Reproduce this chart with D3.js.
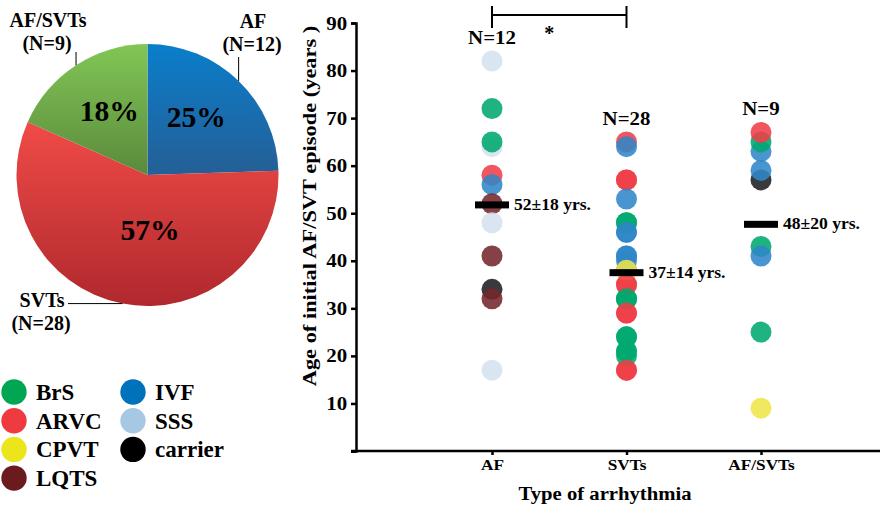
<!DOCTYPE html>
<html>
<head>
<meta charset="utf-8">
<script src="https://cdn.jsdelivr.net/npm/d3@7"></script>
<style>
  body { margin: 0; background: #fff; }
  text { font-family: 'Liberation Serif', 'Times New Roman', serif; font-weight: bold; fill: #000; }
</style>
</head>
<body>
<script>
// pie data
var pieGroups = ['AF', 'SVTs', 'AF/SVTs'];
var pieCounts = [12, 28, 9];
var piePercents = ['25%', '57%', '18%'];
var pieNames = [['AF', '(N=12)'], ['SVTs', '(N=28)'], ['AF/SVTs', '(N=9)']];

// scatter data
var categories = ['AF', 'SVTs', 'AF/SVTs'];
var groupN = ['N=12', 'N=28', 'N=9'];
var meanLabels = ['52\u00b118 yrs.', '37\u00b114 yrs.', '48\u00b120 yrs.'];
var afAges = [82, 72, 64, 65, 58, 56, 52, 48, 41, 34, 32, 17];
var afTypes = ['SSS', 'BrS', 'SSS', 'BrS', 'ARVC', 'IVF', 'LQTS', 'SSS', 'LQTS', 'carrier', 'LQTS', 'SSS'];
var svtAges = [57, 48, 46, 41, 38, 35, 32, 29, 24, 21, 17, 32,
               65, 64, 57, 53, 48, 46, 41, 40, 38, 35, 32, 29, 24, 21, 20, 17];
var svtTypes = ['ARVC', 'BrS', 'IVF', 'IVF', 'ARVC', 'ARVC', 'BrS', 'ARVC', 'BrS', 'BrS', 'ARVC', 'BrS',
                'ARVC', 'IVF', 'ARVC', 'IVF', 'BrS', 'IVF', 'IVF', 'IVF', 'CPVT', 'ARVC', 'BrS', 'ARVC', 'BrS', 'BrS', 'BrS', 'ARVC'];
var mixAges = [57, 63, 59, 65, 67, 43, 41, 25, 9];
var mixTypes = ['carrier', 'IVF', 'IVF', 'BrS', 'ARVC', 'BrS', 'IVF', 'BrS', 'CPVT'];
var yTicks = [0, 10, 20, 30, 40, 50, 60, 70, 80, 90];

var diseases = ['BrS', 'ARVC', 'CPVT', 'LQTS', 'IVF', 'SSS', 'carrier'];
var legendColors = ['#00a651', '#ef3b40', '#ede51c', '#6b1a1e', '#0072bc', '#a7c8e3', '#000000'];
var dotColors = ['#00a870', '#ef3e47', '#eee64a', '#74272b', '#2f86c8', '#d4e3f0', '#1c1f22'];

var W = 891, H = 511;
var svg = d3.select('body').append('svg').attr('width', W).attr('height', H);

function label(g, x, y, txt, size, sx, anchor, rot) {
  return g.append('text')
    .attr('transform', 'translate(' + x + ',' + y + ')' + (rot ? ' rotate(' + rot + ')' : '') + ' scale(' + sx + ',1)')
    .attr('text-anchor', anchor || 'start')
    .style('font-size', size + 'px')
    .text(txt);
}

// ---- pie ----
var pcx = 147.5, pcy = 175, pr = 131;
var pieColors = [['#0a7ecb', '#255f96'], ['#f04b47', '#b0282e'], ['#82c655', '#5a8a3c']];
var defs = svg.append('defs');
pieColors.forEach(function(c, i) {
  var gr = defs.append('linearGradient').attr('id', 'pg' + i)
    .attr('x1', 0).attr('y1', 0).attr('x2', 0).attr('y2', 1);
  gr.append('stop').attr('offset', '0%').attr('stop-color', c[0]);
  gr.append('stop').attr('offset', '100%').attr('stop-color', c[1]);
});

var pie = d3.pie().sort(null)(pieCounts);
var arc = d3.arc().innerRadius(0).outerRadius(pr);
var pg = svg.append('g').attr('transform', 'translate(' + pcx + ',' + pcy + ')');
pg.selectAll('path').data(pie).enter().append('path')
  .attr('d', arc)
  .attr('fill', function(d, i) { return 'url(#pg' + i + ')'; });

var pctArc = d3.arc().innerRadius(70).outerRadius(70);
var pctNudge = [[0, 2], [16, -4], [0, 5]];
pie.forEach(function(d, i) {
  var c = pctArc.centroid(d);
  label(pg, c[0] + pctNudge[i][0], c[1] + pctNudge[i][1], piePercents[i], 29, 1.02, 'middle');
});

// pie name labels with leader lines
var nameAt = [[253, 28, 57], [42, 307, 68], [48, 27, 52]];
pie.forEach(function(d, i) {
  var a = (d.startAngle + d.endAngle) / 2;
  var ex = pcx + Math.sin(a) * pr, ey = pcy - Math.cos(a) * pr;
  var p = nameAt[i];
  var lx, ly;
  if (i === 1) { lx = p[2]; ly = ey; } else { lx = ex; ly = p[2]; }
  svg.append('line').attr('x1', ex).attr('y1', ey).attr('x2', lx).attr('y2', ly)
    .attr('stroke', '#000').attr('stroke-width', 1);
  label(svg, p[0], p[1], pieNames[i][0], 20, 1, 'middle');
  label(svg, p[0] - 1, p[1] + 23, pieNames[i][1], 20, 1, 'middle');
});

// ---- legend ----
var lg = svg.append('g');
diseases.forEach(function(d, i) {
  var col = i < 4 ? 0 : 1, row = i < 4 ? i : i - 4;
  var x = col === 0 ? 14 : 133, y = 392 + row * 28.7;
  lg.append('circle').attr('cx', x).attr('cy', y).attr('r', 12.7).attr('fill', legendColors[i]);
  label(lg, x + 22, y + 8, d, 23, 1, 'start');
});

// ---- scatter ----
var y = d3.scaleLinear().domain([0, 90]).range([451, 23]);
var x = d3.scalePoint().domain(categories).range([492, 761]);
var color = d3.scaleOrdinal().domain(diseases).range(dotColors);

var yAxis = svg.append('g').attr('transform', 'translate(356,0)')
  .call(d3.axisLeft(y).tickValues(yTicks).tickSize(5).tickPadding(3)
    .tickFormat(function(d) { return d === 0 ? '' : d; }));
yAxis.select('.domain').attr('stroke-width', 2.5);
yAxis.selectAll('.tick line').attr('stroke-width', 2.5);
yAxis.selectAll('.tick text').style('font-size', '19px')
  .style('font-family', "'Liberation Serif', serif").style('font-weight', 'bold')
  .attr('transform', 'scale(1.1,1)');

var xAxis = svg.append('g').attr('transform', 'translate(0,451)')
  .call(d3.axisBottom(x).tickSize(4).tickPadding(4));
xAxis.select('.domain').remove();
xAxis.selectAll('.tick line').attr('stroke-width', 2.5);
xAxis.selectAll('.tick text').style('font-size', '15px')
  .style('font-family', "'Liberation Serif', serif").style('font-weight', 'bold')
  .attr('transform', 'scale(1.15,1)');
svg.append('line').attr('x1', 351).attr('x2', 880).attr('y1', y(0)).attr('y2', y(0))
  .attr('stroke', '#000').attr('stroke-width', 2.5);

label(svg, 316, 206, 'Age of initial AF/SVT episode (years )', 19, 1.18, 'middle', -90);
label(svg, 605, 500, 'Type of arrhythmia', 19, 1.09, 'middle');

var groups = [
  { cat: 'AF', ages: afAges, types: afTypes },
  { cat: 'SVTs', ages: svtAges, types: svtTypes },
  { cat: 'AF/SVTs', ages: mixAges, types: mixTypes }
];

groups.forEach(function(g, gi) {
  var pts = g.ages.map(function(a, i) { return { age: a, type: g.types[i] }; });
  svg.append('g').selectAll('circle').data(pts).enter().append('circle')
    .attr('cx', x(g.cat))
    .attr('cy', function(d) { return y(d.age); })
    .attr('r', 10.5)
    .attr('fill', function(d) { return color(d.type); })
    .attr('fill-opacity', 0.88);

  var m = d3.mean(g.ages);
  svg.append('rect').attr('x', x(g.cat) - 17).attr('y', y(m) - 3.5)
    .attr('width', 34).attr('height', 7).attr('fill', '#000');
  label(svg, x(g.cat) + 22, y(m) + 5, meanLabels[gi], 16, 1.1, 'start');
  label(svg, x(g.cat), y(d3.max(g.ages)) - 17, groupN[gi], 19, 1.1, 'middle');
});

// significance bracket AF vs SVTs
var bg = svg.append('g').attr('stroke', '#000').attr('stroke-width', 2);
bg.append('line').attr('x1', x('AF')).attr('x2', x('SVTs')).attr('y1', 15).attr('y2', 15);
bg.append('line').attr('x1', x('AF')).attr('x2', x('AF')).attr('y1', 6).attr('y2', 28);
bg.append('line').attr('x1', x('SVTs')).attr('x2', x('SVTs')).attr('y1', 6).attr('y2', 28);
label(svg, (x('AF') + x('SVTs')) / 2 - 10, 40, '*', 20, 1, 'middle');
</script>
</body>
</html>
